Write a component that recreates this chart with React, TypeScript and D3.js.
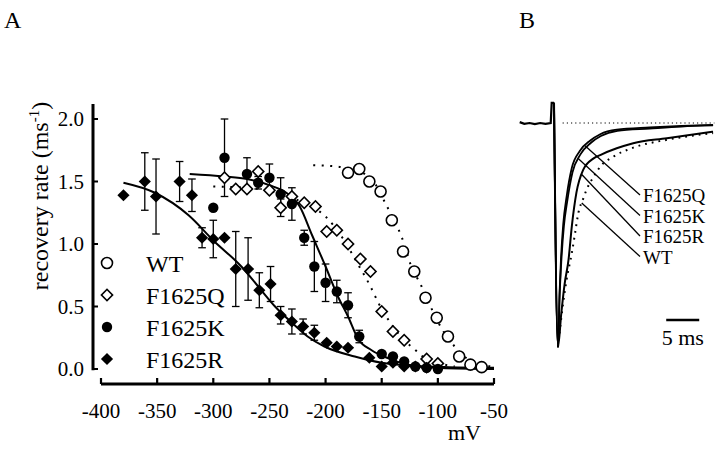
import React from 'react';
import * as d3 from 'd3';

// ---------- Panel A data ----------
const xTicks = [-400, -350, -300, -250, -200, -150, -100, -50];
const yTicks = [0, 0.5, 1, 1.5, 2];
const yTickLabels = ['0.0', '0.5', '1.0', '1.5', '2.0'];

const wtV = [-180, -170, -161, -151, -141, -131, -121, -111, -101, -91, -81, -71, -61];
const wtRate = [1.57, 1.60, 1.50, 1.42, 1.19, 0.94, 0.78, 0.57, 0.41, 0.26, 0.10, 0.035, 0.015];

const qV = [-290, -280, -270, -260, -250, -240, -230, -219, -209, -199, -190, -180, -169, -160, -150, -140, -130, -110, -100];
const qRate = [1.53, 1.44, 1.44, 1.58, 1.43, 1.29, 1.38, 1.33, 1.30, 1.10, 1.11, 1.00, 0.88, 0.78, 0.46, 0.30, 0.23, 0.08, 0.045];
const qErr = [0, 0, 0, 0, 0, 0.07, 0, 0, 0, 0, 0, 0, 0, 0, 0, 0, 0, 0, 0];

const kV = [-300, -290, -270, -260, -250, -240, -230, -219, -210, -200, -190, -180, -170, -150, -140, -130, -120, -110, -100];
const kRate = [1.29, 1.69, 1.56, 1.49, 1.53, 1.40, 1.32, 1.05, 0.82, 0.69, 0.62, 0.51, 0.26, 0.12, 0.10, 0.06, 0.02, 0.01, 0.0];
const kErr = [0, 0.31, 0.13, 0.05, 0.11, 0.13, 0.13, 0.06, 0.2, 0.15, 0.09, 0.1, 0.05, 0, 0, 0, 0, 0, 0];

const rV = [-380, -361, -351, -330, -319, -310, -300, -290, -280, -269, -259, -249, -240, -230, -220, -210, -199, -190, -180, -161, -150, -140, -130, -120, -110];
const rRate = [1.39, 1.50, 1.38, 1.50, 1.39, 1.05, 1.04, 1.05, 0.80, 0.80, 0.63, 0.68, 0.43, 0.38, 0.34, 0.29, 0.21, 0.18, 0.17, 0.09, 0.02, 0.05, 0.02, 0.02, 0.01];
const rErr = [0, 0.23, 0.30, 0.16, 0.13, 0.08, 0.15, 0, 0.30, 0.25, 0.14, 0.14, 0.07, 0.10, 0.06, 0.06, 0, 0, 0, 0, 0, 0, 0, 0, 0];

// fitted curves
const wtFitV = [-211, -190, -175, -165, -155, -147, -140, -132, -124, -115, -106, -97, -85, -75, -65, -52];
const wtFitR = [1.63, 1.62, 1.59, 1.56, 1.47, 1.33, 1.21, 1.05, 0.83, 0.67, 0.49, 0.33, 0.18, 0.09, 0.04, 0.02];
const qFitV = [-300, -270, -240, -220, -200, -185, -170, -160, -153, -140, -130, -121, -115, -100, -85];
const qFitR = [1.46, 1.45, 1.40, 1.33, 1.22, 1.05, 0.82, 0.66, 0.53, 0.34, 0.23, 0.16, 0.11, 0.05, 0.02];
const kFitV = [-321, -290, -270, -250, -235, -223, -212, -200, -189, -180, -171, -159, -144, -124, -97, -50];
const kFitR = [1.56, 1.54, 1.52, 1.47, 1.41, 1.30, 1.07, 0.82, 0.58, 0.42, 0.24, 0.15, 0.085, 0.03, 0.008, 0.0];
const rFitV = [-380, -352, -322, -299, -275, -260, -245, -230, -216, -201, -174, -150, -120, -90, -50];
const rFitR = [1.49, 1.41, 1.23, 1.02, 0.82, 0.66, 0.50, 0.37, 0.26, 0.18, 0.10, 0.05, 0.025, 0.015, 0.01];

const legendNames = ['WT', 'F1625Q', 'F1625K', 'F1625R'];

// ---------- Panel B data (time ms, normalized current) ----------
const preT = [-5.5, -4.8, -4.0, -3.2, -2.4, -1.6, -0.8, -0.65, -0.3];
const preI = [0.004, -0.004, 0.0, -0.005, 0.0, -0.004, 0.0, 0.09, 0.09];
const qT = [-0.3, 0.3, 0.55, 0.75, 1.1, 1.6, 2.4, 3.6, 5.2, 6.7, 9.2, 14.2, 19, 23.8];
const qI = [0.09, -1.0, -0.75, -0.61, -0.45, -0.33, -0.2, -0.125, -0.078, -0.05, -0.03, -0.02, -0.013, -0.008];
const kT = [-0.3, 0.3, 0.55, 0.8, 1.2, 1.7, 2.5, 3.7, 5.3, 6.8, 9.3, 14.2, 19, 23.8];
const kI = [0.09, -1.0, -0.77, -0.62, -0.46, -0.35, -0.22, -0.14, -0.088, -0.058, -0.035, -0.025, -0.016, -0.011];
const rT = [-0.3, 0.3, 0.8, 1.3, 1.9, 2.4, 3.1, 4.1, 5.7, 6.7, 9.2, 11.7, 16.8, 23.8];
const rI = [0.09, -1.0, -0.85, -0.72, -0.61, -0.46, -0.31, -0.21, -0.158, -0.143, -0.113, -0.09, -0.068, -0.039];
const wtT = [0.3, 1.1, 1.6, 2.4, 2.9, 3.4, 4.1, 4.6, 5.7, 6.7, 8.7, 11.7, 16.8, 23.8];
const wtI = [-1.0, -0.8, -0.7, -0.58, -0.49, -0.40, -0.34, -0.30, -0.24, -0.195, -0.15, -0.11, -0.075, -0.045];

const traceLabels = ['F1625Q', 'F1625K', 'F1625R', 'WT'];
const labelAnchorT = [4.4, 3.4, 3.9, 3.9];

const FONT = '"Liberation Serif", "Times New Roman", serif';

export default function App() {
  const x = d3.scaleLinear().domain([-400, -50]).range([101, 494]);
  const y = d3.scaleLinear().domain([0, 2]).range([369, 119]);

  const line = d3.line<[number, number]>()
    .x((d) => x(d[0]))
    .y((d) => y(d[1]))
    .curve(d3.curveMonotoneX);
  const zip = (a: number[], b: number[]) => a.map((v, i) => [v, b[i]] as [number, number]);

  const diamond = d3.symbol().type(d3.symbolSquare).size(74)();
  const openDiamond = d3.symbol().type(d3.symbolSquare).size(62)();

  const tx = d3.scaleLinear().domain([0, 5]).range([556, 589]);
  const ty = d3.scaleLinear().domain([-1, 0]).range([347, 123]);
  const tline = d3.line<[number, number]>().x((d) => tx(d[0])).y((d) => ty(d[1]));
  const tcurve = d3.line<[number, number]>().x((d) => tx(d[0])).y((d) => ty(d[1])).curve(d3.curveMonotoneX);

  const interp = (ts: number[], is: number[], t: number) => {
    const i = d3.bisectLeft(ts, t);
    const t0 = ts[i - 1], t1 = ts[i];
    return is[i - 1] + (is[i] - is[i - 1]) * (t - t0) / (t1 - t0);
  };
  const traceSets: [number[], number[]][] = [[qT, qI], [kT, kI], [rT, rI], [wtT, wtI]];

  const errBars = (vs: number[], rs: number[], es: number[]) =>
    vs.map((v, i) => es[i] > 0 ? (
      <g key={i} stroke="#000" strokeWidth={1.3}>
        <line x1={x(v)} x2={x(v)} y1={y(rs[i] + es[i])} y2={y(rs[i] - es[i])} />
        <line x1={x(v) - 3.8} x2={x(v) + 3.8} y1={y(rs[i] + es[i])} y2={y(rs[i] + es[i])} />
        <line x1={x(v) - 3.8} x2={x(v) + 3.8} y1={y(rs[i] - es[i])} y2={y(rs[i] - es[i])} />
      </g>
    ) : null);

  return (
    <svg width={720} height={460} style={{ position: 'absolute', left: 0, top: 0, background: '#fff' }} fontFamily={FONT}>
      <rect width={720} height={460} fill="#fff" />
      <text x={4} y={28} fontSize={24}>A</text>
      <text x={519} y={28} fontSize={24}>B</text>

      {/* axes */}
      <line x1={93} x2={93} y1={y(2.12)} y2={y(-0.01)} stroke="#000" strokeWidth={3} />
      {yTicks.map((t, i) => (
        <g key={t}>
          <line x1={93} x2={98} y1={y(t)} y2={y(t)} stroke="#000" strokeWidth={2} />
          <text x={84} y={y(t) + 7} fontSize={21} textAnchor="end">{yTickLabels[i]}</text>
        </g>
      ))}
      <line x1={x(-400)} x2={x(-50)} y1={384} y2={384} stroke="#000" strokeWidth={3} />
      {xTicks.map((t) => (
        <g key={t}>
          <line x1={x(t)} x2={x(t)} y1={384} y2={378} stroke="#000" strokeWidth={2.2} />
          <text x={x(t)} y={418} fontSize={21} textAnchor="middle">{t}</text>
        </g>
      ))}
      <text x={448} y={440} fontSize={22}>mV</text>
      <text transform="translate(48,196) rotate(-90)" fontSize={24} textAnchor="middle">
        recovery rate (ms<tspan dy={-9} fontSize={15}>-1</tspan><tspan dy={9}>)</tspan>
      </text>

      {/* fitted curves */}
      <path d={line(zip(wtFitV, wtFitR)) || ''} fill="none" stroke="#000" strokeWidth={2} strokeDasharray="2,6.5" />
      <path d={line(zip(qFitV, qFitR)) || ''} fill="none" stroke="#000" strokeWidth={2} strokeDasharray="2,6.5" />
      <path d={line(zip(kFitV, kFitR)) || ''} fill="none" stroke="#000" strokeWidth={2} />
      <path d={line(zip(rFitV, rFitR)) || ''} fill="none" stroke="#000" strokeWidth={2} />

      {/* error bars */}
      {errBars(qV, qRate, qErr)}
      {errBars(kV, kRate, kErr)}
      {errBars(rV, rRate, rErr)}

      {/* markers */}
      {wtV.map((v, i) => (
        <circle key={'w' + i} cx={x(v)} cy={y(wtRate[i])} r={5.5} fill="#fff" stroke="#000" strokeWidth={1.6} />
      ))}
      {qV.map((v, i) => (
        <path key={'q' + i} d={openDiamond || ''} transform={`translate(${x(v)},${y(qRate[i])}) rotate(45)`} fill="#fff" stroke="#000" strokeWidth={1.6} />
      ))}
      {kV.map((v, i) => (
        <circle key={'k' + i} cx={x(v)} cy={y(kRate[i])} r={5.2} fill="#000" />
      ))}
      {rV.map((v, i) => (
        <path key={'r' + i} d={diamond || ''} transform={`translate(${x(v)},${y(rRate[i])}) rotate(45)`} fill="#000" />
      ))}

      {/* legend */}
      {legendNames.map((n, i) => {
        const cy = 263 + i * 32;
        const cx = 107;
        return (
          <g key={n}>
            {i === 0 && <circle cx={cx} cy={cy} r={5.5} fill="#fff" stroke="#000" strokeWidth={1.6} />}
            {i === 1 && <path d={openDiamond || ''} transform={`translate(${cx},${cy}) rotate(45)`} fill="#fff" stroke="#000" strokeWidth={1.6} />}
            {i === 2 && <circle cx={cx} cy={cy} r={5.2} fill="#000" />}
            {i === 3 && <path d={diamond || ''} transform={`translate(${cx},${cy}) rotate(45)`} fill="#000" />}
            <text x={146} y={cy + 8.5} fontSize={24}>{n}</text>
          </g>
        );
      })}

      {/* ---------- Panel B ---------- */}
      <line x1={tx(1)} x2={tx(24)} y1={ty(0)} y2={ty(0)} stroke="#000" strokeWidth={1} strokeDasharray="1.2,3" />
      <path d={tline(zip(preT, preI)) || ''} fill="none" stroke="#000" strokeWidth={2.2} />
      <path d={tcurve(zip(qT, qI)) || ''} fill="none" stroke="#000" strokeWidth={1.8} />
      <path d={tcurve(zip(kT, kI)) || ''} fill="none" stroke="#000" strokeWidth={1.8} />
      <path d={tcurve(zip(rT, rI)) || ''} fill="none" stroke="#000" strokeWidth={2} />
      <path d={tcurve(zip(wtT, wtI)) || ''} fill="none" stroke="#000" strokeWidth={2} strokeDasharray="1.8,5" />
      {traceLabels.map((n, i) => {
        const [ts, is] = traceSets[i];
        const t0 = labelAnchorT[i];
        const x0 = tx(t0);
        const y0 = ty(interp(ts, is, t0));
        const ly = 195 + i * 20.5;
        return (
          <g key={n}>
            <line x1={x0} y1={y0} x2={640} y2={ly} stroke="#000" strokeWidth={1.3} />
            <text x={643} y={ly + 7} fontSize={19}>{n}</text>
          </g>
        );
      })}
      <line x1={tx(16.7)} x2={tx(21.7)} y1={ty(-0.88)} y2={ty(-0.88)} stroke="#000" strokeWidth={2.5} />
      <text x={(tx(16.7) + tx(21.7)) / 2} y={345} fontSize={22} textAnchor="middle">5 ms</text>
    </svg>
  );
}
